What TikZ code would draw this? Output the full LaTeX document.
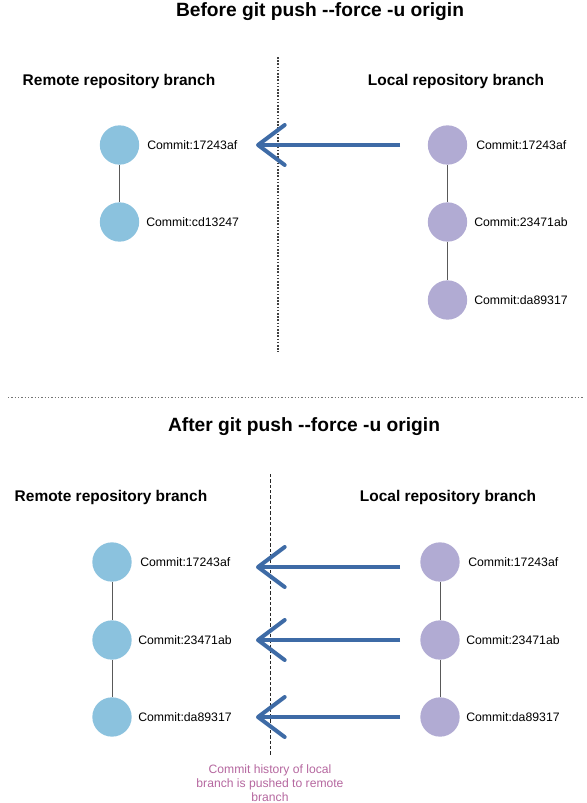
\documentclass[tikz,border=0pt]{standalone}
\usepackage{fontspec}
\setmainfont{Liberation Sans}
\usetikzlibrary{arrows.meta}
\definecolor{remotec}{HTML}{8BC2DE}
\definecolor{localc}{HTML}{B1ABD3}
\definecolor{arrowc}{HTML}{3E6BA6}
\definecolor{notec}{HTML}{B5679F}
\begin{document}
\begin{tikzpicture}[x=0.75pt,y=-0.75pt,
  rnode/.style={circle,fill=remotec,draw=none,minimum size=29.5pt,inner sep=0pt},
  lnode/.style={circle,fill=localc,draw=none,minimum size=29.5pt,inner sep=0pt},
  clabel/.style={font=\fontsize{9.2}{11}\selectfont,anchor=west,inner sep=0pt},
  title/.style={font=\bfseries\fontsize{14.4}{16}\selectfont},
  head/.style={font=\bfseries\fontsize{11.6}{13}\selectfont},
  link/.style={draw=black!65,line width=0.75pt},
  push/.style={draw=arrowc,line width=3pt,-{Straight Barb[length=20pt,width=30pt,line width=3pt,round]}},
  note/.style={font=\fontsize{9.1}{10.5}\selectfont,text=notec,align=center}]
\useasboundingbox (0,0) rectangle (586,803);
% ---------- Before ----------
\node[title] (t1) at (320,12) {Before git push -{}-force -u origin};
\node[head] (h1r) at (119,81) {Remote repository branch};
\node[head] (h1l) at (456,81) {Local repository branch};
\coordinate (v1a) at (278,57);
\coordinate (v1b) at (278,352);
\draw[black!75,line width=0.9pt,dash pattern=on 1.2pt off 1.2pt] (v1a) -- (v1b);
\node[rnode] (r1) at (119.5,145) {};
\node[rnode] (r2) at (119.5,222) {};
\draw[link] (r1) -- (r2);
\node[clabel] (r1t) at (147,145) {Commit:17243af};
\node[clabel] (r2t) at (146,222) {Commit:cd13247};
\node[lnode] (l1) at (447.5,145) {};
\node[lnode] (l2) at (447.5,222) {};
\node[lnode] (l3) at (447.5,300) {};
\draw[link] (l1) -- (l2);
\draw[link] (l2) -- (l3);
\node[clabel] (l1t) at (476,145) {Commit:17243af};
\node[clabel] (l2t) at (474,222) {Commit:23471ab};
\node[clabel] (l3t) at (474,300) {Commit:da89317};
\coordinate (p1s) at (400,145);
\coordinate (p1e) at (256,145);
\draw[push] (p1s) -- (p1e);
% ---------- separator ----------
\coordinate (sa) at (8,397);
\coordinate (sb) at (584,397);
\draw[black!55,line width=0.75pt,dash pattern=on 1pt off 1.5pt] (sa) -- (sb);
% ---------- After ----------
\node[title] (t2) at (304,427) {After git push -{}-force -u origin};
\node[head] (h2r) at (111,497) {Remote repository branch};
\node[head] (h2l) at (448,497) {Local repository branch};
\coordinate (v2a) at (270,474);
\coordinate (v2b) at (270,756);
\draw[black!85,line width=0.75pt,dash pattern=on 2.5pt off 1.5pt] (v2a) -- (v2b);
\node[rnode] (s1) at (112,562) {};
\node[rnode] (s2) at (112,640) {};
\node[rnode] (s3) at (112,717) {};
\draw[link] (s1) -- (s2);
\draw[link] (s2) -- (s3);
\node[clabel] (s1t) at (140,562) {Commit:17243af};
\node[clabel] (s2t) at (138,640) {Commit:23471ab};
\node[clabel] (s3t) at (138,717) {Commit:da89317};
\node[lnode] (m1) at (440,562) {};
\node[lnode] (m2) at (440,640) {};
\node[lnode] (m3) at (440,717) {};
\draw[link] (m1) -- (m2);
\draw[link] (m2) -- (m3);
\node[clabel] (m1t) at (468,562) {Commit:17243af};
\node[clabel] (m2t) at (466,640) {Commit:23471ab};
\node[clabel] (m3t) at (466,717) {Commit:da89317};
\coordinate (q1s) at (400,567);
\coordinate (q1e) at (256,567);
\coordinate (q2s) at (400,640);
\coordinate (q2e) at (256,640);
\coordinate (q3s) at (400,717);
\coordinate (q3e) at (256,717);
\draw[push] (q1s) -- (q1e);
\draw[push] (q2s) -- (q2e);
\draw[push] (q3s) -- (q3e);
\node[note] (nt) at (270,783) {Commit history of local\\branch is pushed to remote\\branch};
\end{tikzpicture}
\end{document}
